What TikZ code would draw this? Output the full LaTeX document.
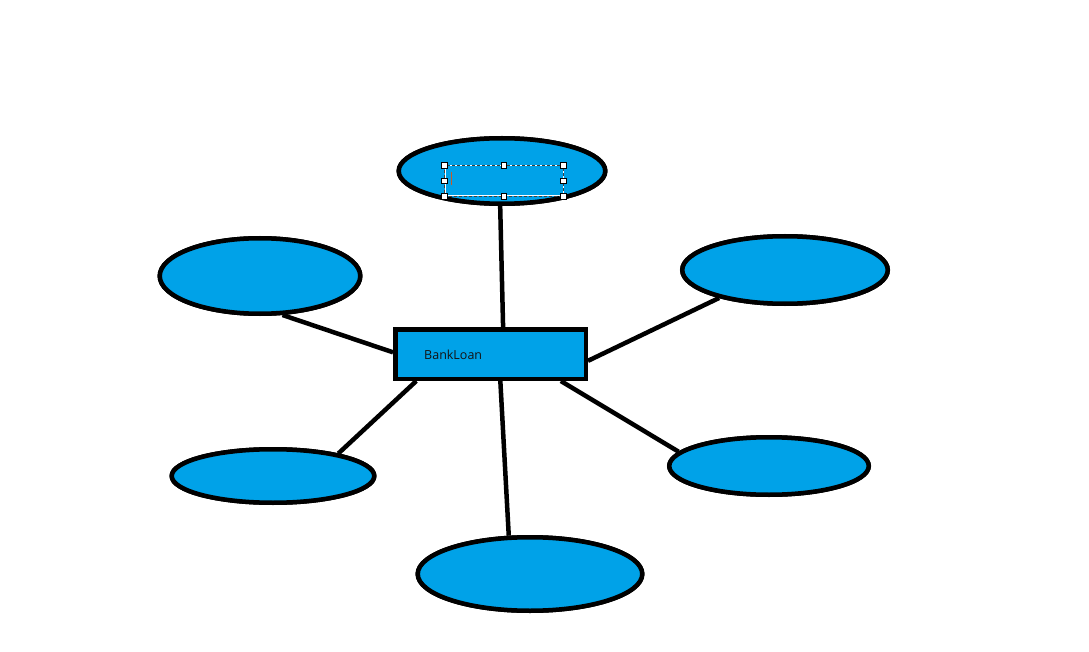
\documentclass[tikz,border=0pt]{standalone}
\usepackage{fontspec}
\setmainfont{Open Sans}
\usetikzlibrary{shapes.geometric}
\definecolor{paintblue}{RGB}{0,162,232}
\definecolor{caret}{RGB}{200,90,40}
\tikzset{
  attr/.style={ellipse, draw=black, fill=paintblue, line width=4.5pt, inner sep=0pt},
  entity/.style={rectangle, draw=black, fill=paintblue, line width=4.5pt, inner sep=0pt,
                 minimum width=190.5pt, minimum height=49.5pt},
  link/.style={line width=4.5pt, draw=black},
  handle/.style={rectangle, draw=black, fill=white, line width=0.8pt,
                 minimum size=5.5pt, inner sep=0pt},
}
\begin{document}
\begin{tikzpicture}[x=1pt, y=-1pt]
  \useasboundingbox[fill=white] (0,0) rectangle (1089,652);

  % entity and attribute shapes
  \node[entity] (loan) at (490.5,354) {};
  \node[attr, minimum width=206.5pt, minimum height=65.5pt] (top) at (502,171) {};
  \node[attr, minimum width=200.5pt, minimum height=75.5pt] (ul) at (260,276) {};
  \node[attr, minimum width=205.5pt, minimum height=67.5pt] (ur) at (785,270) {};
  \node[attr, minimum width=202.5pt, minimum height=53.5pt] (ll) at (273,476) {};
  \node[attr, minimum width=199.5pt, minimum height=57.5pt] (lr) at (769,466) {};
  \node[attr, minimum width=224.5pt, minimum height=73.5pt] (bot) at (530,574) {};

  % connectors
  \draw[link] (top.-93) -- (loan.65);
  \draw[link] (ul.-60) -- (loan.179);
  \draw[link] (ur.-157.6) -- (loan.-4.7);
  \draw[link] (ll.19) -- (loan.-160.1);
  \draw[link] (lr.171.3) -- (loan.-21.8);
  \draw[link] (bot.119.4) -- (loan.-70.6);

  % redraw the shapes over the connector ends
  \node[entity] at (loan) {};
  \node[anchor=west, inner sep=0pt, text=black!92, font=\fontsize{12.5}{14}\selectfont] (name) at (424,355) {BankLoan};
  \node[attr, minimum width=206.5pt, minimum height=65.5pt] at (top) {};
  \node[attr, minimum width=200.5pt, minimum height=75.5pt] at (ul) {};
  \node[attr, minimum width=205.5pt, minimum height=67.5pt] at (ur) {};
  \node[attr, minimum width=202.5pt, minimum height=53.5pt] at (ll) {};
  \node[attr, minimum width=199.5pt, minimum height=57.5pt] at (lr) {};
  \node[attr, minimum width=224.5pt, minimum height=73.5pt] at (bot) {};

  % text box being edited inside the top ellipse
  \node[draw=white, line width=1pt, minimum width=118pt, minimum height=30pt, inner sep=0pt] (sel) at (504,181) {};
  \draw[black!75, line width=1pt, dash pattern=on 3pt off 2pt] (sel.north west) rectangle (sel.south east);
  \draw[caret, line width=0.8pt] (451,172) -- (451,185);
  \foreach \a in {north west,north,north east,west,east,south west,south,south east}
    \node[handle] at (sel.\a) {};
\end{tikzpicture}
\end{document}
